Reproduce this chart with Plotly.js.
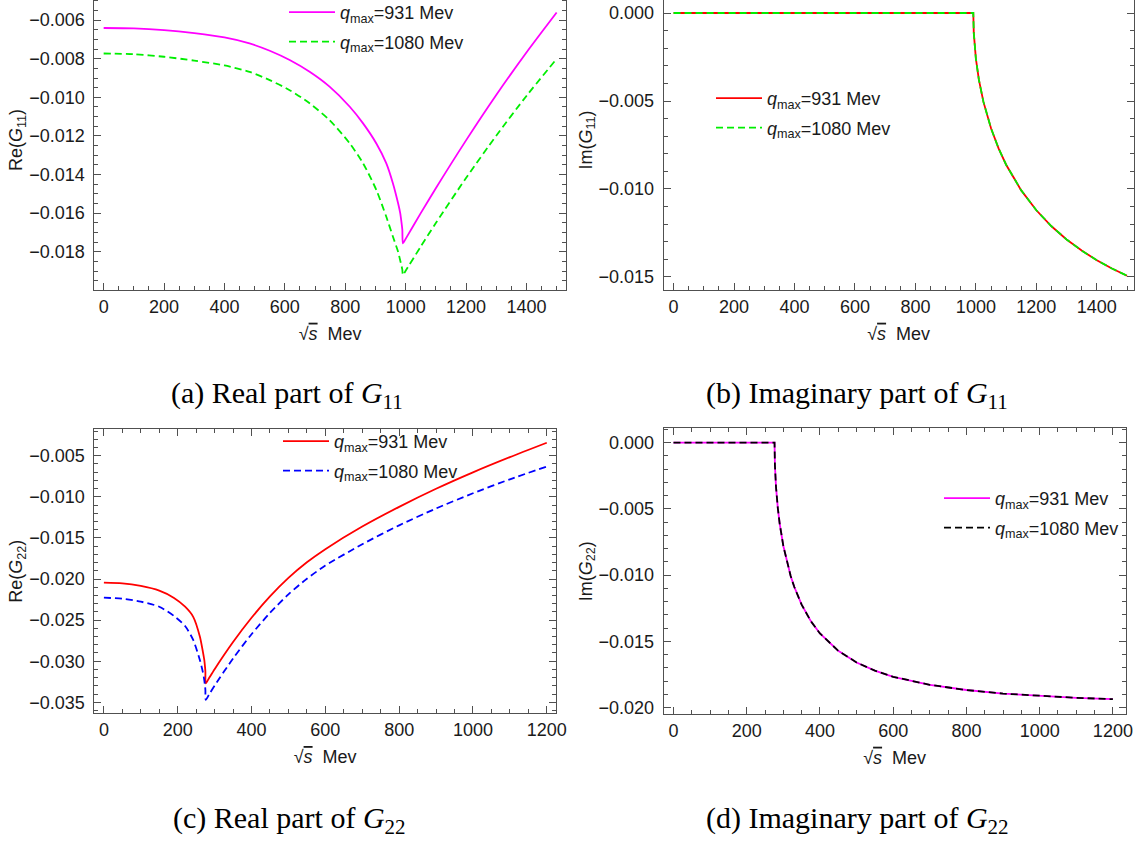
<!DOCTYPE html>
<html><head><meta charset="utf-8">
<script src="https://cdn.plot.ly/plotly-3.0.1.min.js"></script>
<style>html,body{margin:0;padding:0;background:#fff;overflow:hidden}#chart{position:absolute;left:0;top:-10px;width:1141px;height:851px}</style>
</head><body><div id="chart"></div><script>
// ---------- data ----------
// (a) Re(G11)
const sA = [0,100,200,300,400,483,550,616,682,748,815,859,903,936,958,975,982,986,989,991,1000,1050,1100,1200,1300,1400,1500];
const reG11_931  = [-0.00641,-0.00643,-0.00652,-0.00668,-0.00690,-0.00721,-0.00759,-0.00807,-0.00868,-0.00945,-0.01049,-0.01135,-0.01239,-0.01342,-0.01446,-0.01549,-0.01600,-0.01645,-0.01685,-0.01757,-0.01733,-0.01600,-0.01471,-0.01223,-0.00988,-0.00768,-0.00561];
const reG11_1080 = [-0.00773,-0.00777,-0.00790,-0.00810,-0.00835,-0.00868,-0.00911,-0.00963,-0.01031,-0.01118,-0.01239,-0.01342,-0.01480,-0.01619,-0.01722,-0.01800,-0.01845,-0.01870,-0.01893,-0.01921,-0.01898,-0.01773,-0.01651,-0.01418,-0.01199,-0.00993,-0.00801];
// (b) Im(G11)
const sB = [0,991.4,993,996,1000,1010,1025,1050,1075,1100,1150,1200,1250,1300,1350,1400,1450,1500];
const imG11_931  = [0,0,-0.00113,-0.00191,-0.00260,-0.00380,-0.00505,-0.00655,-0.00769,-0.00862,-0.01008,-0.01121,-0.01212,-0.01287,-0.01350,-0.01405,-0.01452,-0.01493];
const imG11_1080 = [0,0,-0.00113,-0.00191,-0.00260,-0.00380,-0.00505,-0.00655,-0.00769,-0.00862,-0.01008,-0.01121,-0.01212,-0.01287,-0.01350,-0.01405,-0.01452,-0.01493];
// (c) Re(G22)
const sC = [0,50,100,150,190,220,242,260,268,272,274,275,276,285,300,350,400,450,500,550,600,700,800,900,1000,1100,1200];
const reG22_931  = [-0.02045,-0.02053,-0.02085,-0.02142,-0.02230,-0.02337,-0.02460,-0.02700,-0.02880,-0.02985,-0.03070,-0.03128,-0.03270,-0.03205,-0.03097,-0.02767,-0.02472,-0.02212,-0.01987,-0.01797,-0.01637,-0.01362,-0.01122,-0.00902,-0.00702,-0.00517,-0.00342];
const reG22_1080 = [-0.02227,-0.02240,-0.02276,-0.02337,-0.02450,-0.02572,-0.02742,-0.02985,-0.03130,-0.03229,-0.03300,-0.03349,-0.03470,-0.03405,-0.03297,-0.02967,-0.02672,-0.02412,-0.02187,-0.01997,-0.01837,-0.01577,-0.01347,-0.01142,-0.00957,-0.00787,-0.00632];
// (d) Im(G22)
const sD = [0,276,277,278,280,285,290,300,320,330,350,375,400,450,500,550,600,700,800,900,1000,1100,1200];
const imG22_931  = [0,0,-0.00169,-0.00238,-0.00335,-0.00496,-0.00611,-0.00780,-0.01007,-0.01090,-0.01223,-0.01347,-0.01440,-0.01571,-0.01659,-0.01721,-0.01767,-0.01828,-0.01867,-0.01894,-0.01912,-0.01926,-0.01936];
const imG22_1080 = [0,0,-0.00169,-0.00238,-0.00335,-0.00496,-0.00611,-0.00780,-0.01007,-0.01090,-0.01223,-0.01347,-0.01440,-0.01571,-0.01659,-0.01721,-0.01767,-0.01828,-0.01867,-0.01894,-0.01912,-0.01926,-0.01936];

const seriesNames = ['<i>q</i><sub>max</sub>=931 Mev', '<i>q</i><sub>max</sub>=1080 Mev'];
const captions = ['(a) Real part of <i>G</i><sub>11</sub>', '(b) Imaginary part of <i>G</i><sub>11</sub>',
                  '(c) Real part of <i>G</i><sub>22</sub>', '(d) Imaginary part of <i>G</i><sub>22</sub>'];
const yTitles = ['Re(<i>G</i><sub>11</sub>)', 'Im(<i>G</i><sub>11</sub>)', 'Re(<i>G</i><sub>22</sub>)', 'Im(<i>G</i><sub>22</sub>)'];
const xTitle = '√<span style="text-decoration:overline"><i>s</i></span>  Mev';

// ---------- layout helpers ----------
// the figure is 10px taller than the page and shifted up, so the top frame of the upper row is cut off
const OFF = 10;
const W = 1141, H = 841 + OFF;
const fx = p => p / W;
const fy = p => 1 - (p + OFF) / H;
const SANS = 'Liberation Sans, Arial, sans-serif';
const SERIF = 'Liberation Serif, Times New Roman, serif';
const FRAME = '#505050';
const TXT = '#1a1a1a';
const FS = 18;
const LW = 1.8;
const DASH = '7px,4px';

function tr(x, y, color, dash, name, xa, ya, leg, grp, shape) {
  return {x: x, y: y, type: 'scatter', mode: 'lines', name: name,
          line: {color: color, width: LW, dash: dash, shape: shape, smoothing: 0.7},
          xaxis: xa, yaxis: ya, legend: leg, legendgroup: grp, hoverinfo: 'skip'};
}

const data = [
  tr(sA, reG11_931,  '#ff00ff', 'solid', seriesNames[0], 'x',  'y',  'legend',  'a1', 'spline'),
  tr(sA, reG11_1080, '#00ee00', DASH,    seriesNames[1], 'x',  'y',  'legend',  'a2', 'spline'),
  tr(sB, imG11_931,  '#ff0000', 'solid', seriesNames[0], 'x2', 'y2', 'legend2', 'b1', 'linear'),
  tr(sB, imG11_1080, '#00ee00', DASH,    seriesNames[1], 'x2', 'y2', 'legend2', 'b2', 'linear'),
  tr(sC, reG22_931,  '#ff0000', 'solid', seriesNames[0], 'x3', 'y3', 'legend3', 'c1', 'spline'),
  tr(sC, reG22_1080, '#0000ff', DASH,    seriesNames[1], 'x3', 'y3', 'legend3', 'c2', 'spline'),
  tr(sD, imG22_931,  '#ff00ff', 'solid', seriesNames[0], 'x4', 'y4', 'legend4', 'd1', 'linear'),
  tr(sD, imG22_1080, '#000000', DASH,    seriesNames[1], 'x4', 'y4', 'legend4', 'd2', 'linear')
];

function xaxis(dom, range, mirror, anchor) {
  return {domain: dom, range: range, anchor: anchor,
    showline: true, linecolor: FRAME, linewidth: 1, mirror: mirror,
    ticks: 'inside', ticklen: 7, tickwidth: 1, tickcolor: FRAME, tick0: 0, dtick: 200,
    minor: {ticks: 'inside', ticklen: 4, tickwidth: 1, tickcolor: FRAME, dtick: 50},
    showgrid: false, zeroline: false,
    tickfont: {family: SANS, size: FS, color: TXT},
    title: {text: xTitle, font: {family: SANS, size: FS, color: TXT}, standoff: 11}};
}
function yaxis(dom, range, dtick, mdtick, anchor, title) {
  return {domain: dom, range: range, anchor: anchor,
    showline: true, linecolor: FRAME, linewidth: 1, mirror: 'allticks',
    ticks: 'inside', ticklen: 7, tickwidth: 1, tickcolor: FRAME, tick0: 0, dtick: dtick,
    tickformat: '.3f', ticklabelstandoff: 5,
    minor: {ticks: 'inside', ticklen: 4, tickwidth: 1, tickcolor: FRAME, dtick: mdtick},
    showgrid: false, zeroline: false,
    tickfont: {family: SANS, size: FS, color: TXT},
    title: {text: title, font: {family: SANS, size: FS, color: TXT}, standoff: 0}};
}
function legend(px, py) {
  return {x: fx(px), y: fy(py), xanchor: 'left', yanchor: 'top', bgcolor: 'rgba(0,0,0,0)',
    borderwidth: 0, font: {family: SANS, size: FS, color: TXT},
    traceorder: 'grouped', tracegroupgap: 3, itemwidth: 46};
}

const layout = {
  width: W, height: H, margin: {l: 0, r: 0, t: 0, b: 0},
  paper_bgcolor: '#fff', plot_bgcolor: '#fff', showlegend: true,
  xaxis:  xaxis([fx(94.3), fx(566)],    [-31, 1531], false, 'y'),
  yaxis:  yaxis([fy(290), fy(-OFF)],     [-0.01998, -0.00496 + 10 / 19308], 0.002, 0.0005, 'x', yTitles[0]),
  xaxis2: xaxis([fx(663.6), fx(1133.7)], [-33, 1522], false, 'y2'),
  yaxis2: yaxis([fy(290), fy(-OFF)],     [-0.01574, 0.00074 + 10 / 17600], 0.005, 0.001, 'x2', yTitles[1]),
  xaxis3: xaxis([fx(94.3), fx(556)],     [-26, 1225], 'allticks', 'y3'),
  yaxis3: yaxis([fy(713.3), fy(429)],    [-0.03634, -0.00175], 0.005, 0.001, 'x3', yTitles[2]),
  xaxis4: xaxis([fx(663.6), fx(1125.7)], [-27, 1235], 'allticks', 'y4'),
  yaxis4: yaxis([fy(714), fy(428.3)],    [-0.02048, 0.00108], 0.005, 0.001, 'x4', yTitles[3]),
  legend:  legend(284, -6),
  legend2: legend(711, 80),
  legend3: legend(278, 423),
  legend4: legend(939, 480),
  annotations: [
    {text: captions[0], x: fx(287), y: fy(395)},
    {text: captions[1], x: fx(857), y: fy(395)},
    {text: captions[2], x: fx(289), y: fy(820)},
    {text: captions[3], x: fx(857), y: fy(820)}
  ].map(a => Object.assign(a, {xref: 'paper', yref: 'paper', xanchor: 'center', yanchor: 'middle',
        showarrow: false, font: {family: SERIF, size: 30, color: '#000'}}))
};

Plotly.newPlot('chart', data, layout, {displayModeBar: false, staticPlot: true});
</script></body></html>
